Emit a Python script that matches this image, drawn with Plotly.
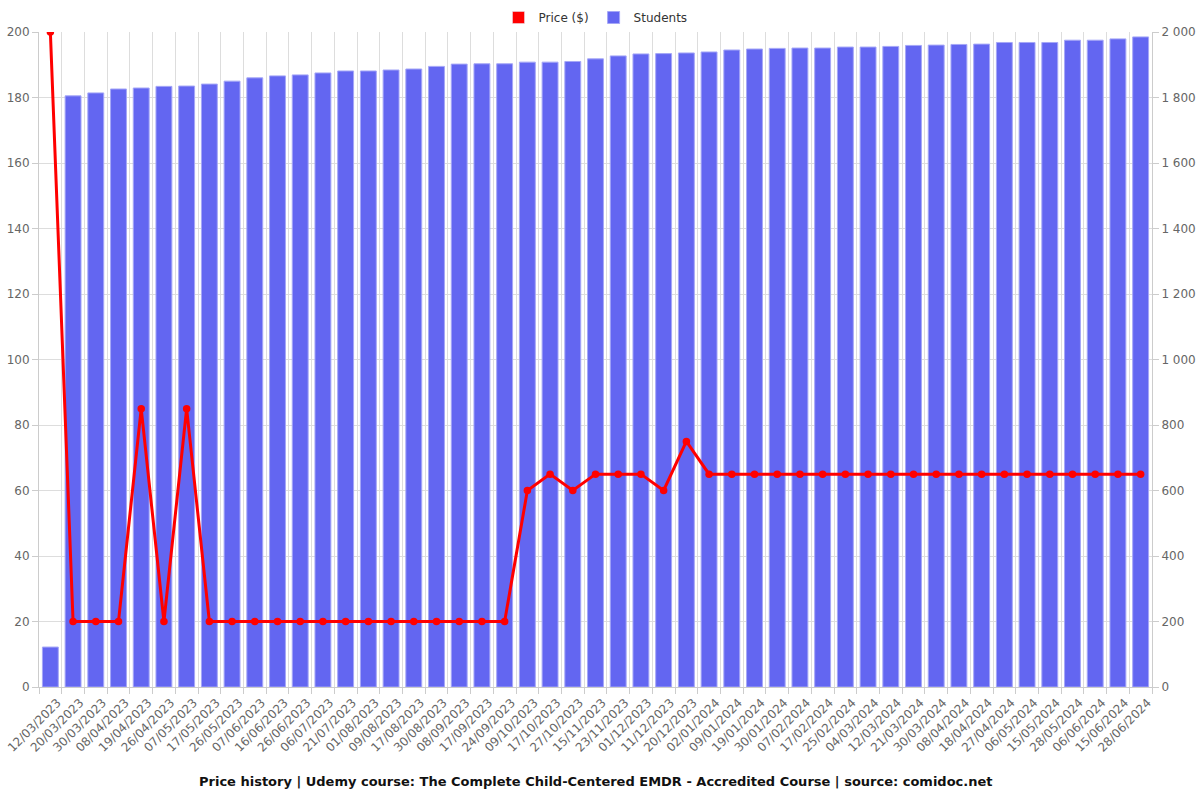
import plotly.graph_objects as go

dates = ["12/03/2023", "20/03/2023", "30/03/2023", "08/04/2023", "19/04/2023", "26/04/2023",
         "07/05/2023", "17/05/2023", "26/05/2023", "07/06/2023", "16/06/2023", "26/06/2023",
         "06/07/2023", "21/07/2023", "01/08/2023", "09/08/2023", "17/08/2023", "30/08/2023",
         "08/09/2023", "17/09/2023", "24/09/2023", "09/10/2023", "17/10/2023", "27/10/2023",
         "15/11/2023", "23/11/2023", "01/12/2023", "11/12/2023", "20/12/2023", "02/01/2024",
         "09/01/2024", "19/01/2024", "30/01/2024", "07/02/2024", "17/02/2024", "25/02/2024",
         "04/03/2024", "12/03/2024", "21/03/2024", "30/03/2024", "08/04/2024", "18/04/2024",
         "27/04/2024", "06/05/2024", "15/05/2024", "28/05/2024", "06/06/2024", "15/06/2024",
         "28/06/2024"]

students = [122, 1805, 1814, 1826, 1829, 1834, 1835, 1841, 1850, 1860, 1866, 1869,
            1875, 1881, 1881, 1884, 1887, 1895, 1902, 1903, 1903, 1908, 1908, 1910,
            1918, 1927, 1933, 1934, 1936, 1939, 1945, 1948, 1950, 1951, 1951, 1954,
            1954, 1956, 1959, 1960, 1962, 1963, 1968, 1968, 1968, 1975, 1975, 1979,
            1985]

price = [200, 20, 20, 20, 85, 20, 85, 20, 20, 20, 20, 20,
         20, 20, 20, 20, 20, 20, 20, 20, 20, 60, 65, 60,
         65, 65, 65, 60, 75, 65, 65, 65, 65, 65, 65, 65,
         65, 65, 65, 65, 65, 65, 65, 65, 65, 65, 65, 65,
         65]

title = "Price history | Udemy course: The Complete Child-Centered EMDR - Accredited Course | source: comidoc.net"

RED = "#FF0000"
BLUE = "#6366F1"
GRID = "#DDDDDD"
TICK = "#666666"

fig = go.Figure()

# legend-only entry so the price legend shows a filled swatch (no drawn bar)
fig.add_trace(go.Bar(x=[dates[0]], y=[None], name="Price ($)", marker=dict(color=RED),
                     yaxis="y2", showlegend=True, hoverinfo="skip"))

fig.add_trace(go.Bar(x=dates, y=students, name="Students",
                     marker=dict(color=BLUE, line=dict(color="#A5A7F7", width=1)),
                     yaxis="y"))

fig.add_trace(go.Scatter(x=dates, y=price, name="Price ($)", mode="lines+markers",
                         line=dict(color=RED, width=3), marker=dict(color=RED, size=7.5),
                         yaxis="y2", showlegend=False))

fig.update_layout(
    width=1200, height=800,
    paper_bgcolor="white", plot_bgcolor="white",
    font=dict(family="DejaVu Sans", size=12, color=TICK),
    margin=dict(l=39, r=48, t=32, b=113, autoexpand=False),
    bargap=0.3,
    barmode="overlay",
    separators=". ",
    legend=dict(orientation="h", x=0.5, xanchor="center", y=1.0, yanchor="bottom",
                font=dict(size=12, color="#333333"), traceorder="normal",
                itemwidth=30),
    xaxis=dict(type="category", tickson="boundaries", tickangle=-45, automargin=False,
               range=[-0.5, len(dates) - 0.5],
               showgrid=True, gridcolor=GRID, ticks="outside", ticklen=6,
               tickcolor="#CCCCCC", showline=True, linecolor="#CCCCCC",
               ticklabelshift=7, ticklabelstandoff=3,
               tickfont=dict(size=12, color=TICK)),
    yaxis=dict(side="right", range=[0, 2000], dtick=200, showgrid=True, gridcolor=GRID,
               showline=True, linecolor="#CCCCCC", zeroline=False, automargin=False,
               tickformat=",d", ticks="outside", ticklen=6, tickcolor="#CCCCCC",
               tickfont=dict(size=12, color=TICK)),
    yaxis2=dict(side="left", overlaying="y", range=[0, 200], dtick=20, showgrid=False,
                showline=True, linecolor="#CCCCCC", zeroline=False, automargin=False,
                ticks="outside", ticklen=6, tickcolor="#CCCCCC",
                tickfont=dict(size=12, color=TICK)),
    annotations=[dict(text="<b>" + title + "</b>", xref="paper", yref="paper",
                      x=0.5, y=-0.145, xanchor="center", yanchor="middle",
                      showarrow=False, font=dict(size=13, color="#111111"))],
)

fig.write_html("out.html", config={"displayModeBar": False},
               post_script="document.body.style.margin='0';")
